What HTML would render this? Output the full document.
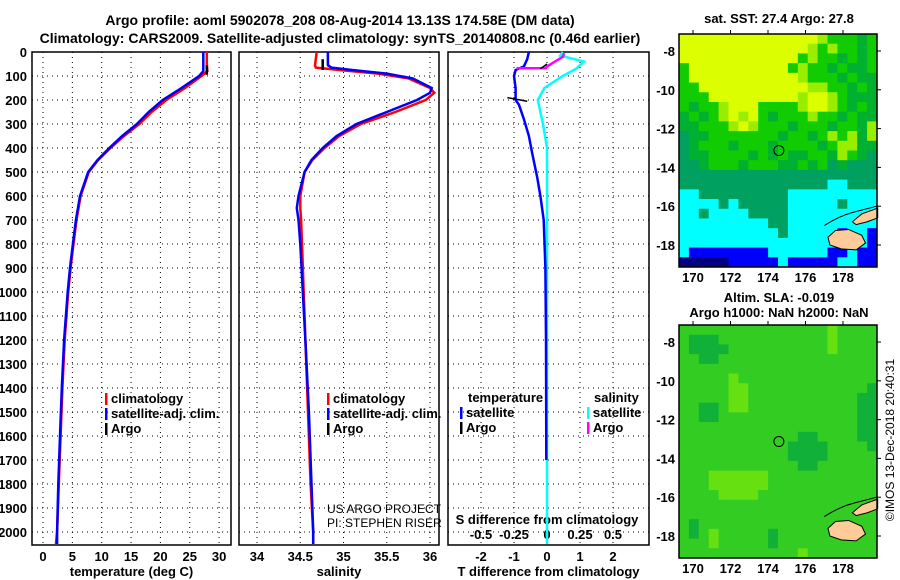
<!DOCTYPE html>
<html><head><meta charset="utf-8">
<style>
body{margin:0;background:#fff;}
svg{display:block;font-family:"Liberation Sans",sans-serif;}
.t{font-weight:bold;font-size:13px;fill:#000;}
.ti{font-weight:bold;font-size:14px;fill:#000;}
</style></head><body>
<svg id="fig" width="900" height="580" viewBox="0 0 900 580">
<text class="ti" x="340" y="25" text-anchor="middle">Argo profile: aoml 5902078_208 08-Aug-2014 13.13S 174.58E (DM data)</text>
<text class="ti" x="340" y="43" text-anchor="middle">Climatology: CARS2009. Satellite-adjusted climatology: synTS_20140808.nc (0.46d earlier)</text>
<g id="g1"></g>
<g id="g2"></g>
<g id="g3"></g>
<g id="m1"></g>
<g id="m2"></g>
<text class="t" x="779" y="23" text-anchor="middle">sat. SST: 27.4 Argo: 27.8</text>
<text class="t" x="779" y="302" text-anchor="middle">Altim. SLA: -0.019</text>
<text class="t" x="779" y="317" text-anchor="middle">Argo h1000: NaN h2000: NaN</text>
<text x="894" y="440" font-size="12" text-anchor="middle" transform="rotate(-90 894 440)">©IMOS 13-Dec-2018 20:40:31</text>
</svg>
<script>
// ---- data ----
const depthT=[0,50,80,100,150,200,250,300,350,400,450,500,600,700,800,900,1000,1200,1400,1600,1800,2000,2050];
const tempClim=[27.9,27.9,28.0,27.0,24.2,21.0,18.5,16.4,13.8,11.5,9.4,7.8,6.4,5.7,5.2,4.7,4.3,3.7,3.3,3.0,2.7,2.4,2.2];
const tempSat=[27.3,27.3,27.3,26.6,23.6,20.4,18.0,16.0,13.5,11.3,9.3,7.7,6.3,5.6,5.1,4.6,4.2,3.6,3.2,2.9,2.6,2.4,2.4];
const argoTdepth=[55,95];
const argoTemp=[27.9,27.9];
const depthS=[0,55,65,75,90,110,150,170,200,250,300,350,400,450,500,600,650,700,800,1000,1200,1500,1800,2000,2050];
const salClim=[34.69,34.67,34.68,34.95,35.4,35.75,36.0,36.05,35.95,35.6,35.2,34.95,34.78,34.64,34.55,34.5,34.5,34.51,34.52,34.54,34.56,34.59,34.62,34.65,34.65];
const salSat=[34.82,34.82,34.86,35.1,35.5,35.8,36.02,36.0,35.85,35.5,35.15,34.92,34.76,34.63,34.55,34.48,34.46,34.48,34.5,34.53,34.56,34.6,34.63,34.65,34.65];
const argoSdepth=[30,75];
const argoSal=[34.76,34.76];
const depthD=[0,30,60,75,100,150,200,220,280,350,420,520,600,700,900,1200,1700];
const tDiffSat=[-0.55,-0.6,-0.7,-0.95,-1.0,-0.95,-0.95,-0.85,-0.7,-0.55,-0.45,-0.3,-0.2,-0.1,-0.05,-0.03,-0.02];
const depthDS=[0,15,40,70,100,150,200,250,300,400,500,1000,2050];
const sDiffSat=[0.12,0.1,0.28,0.22,0.12,-0.02,-0.07,-0.05,-0.03,0.0,0.0,0.0,0.0];
const argoSdiffDepth=[5,20,60,68,68];
const argoSdiff=[0.13,0.12,0.0,-0.01,-0.23];
const argoTdiffDepth=[190,205,70,50];
const argoTdiff=[-1.2,-0.6,-0.2,0.0];
const depthTicks=[0,100,200,300,400,500,600,700,800,900,1000,1100,1200,1300,1400,1500,1600,1700,1800,1900,2000];
const tempTicks=[0,5,10,15,20,25,30];
const salTicks=[34,34.5,35,35.5,36];
const tdTicks=[-2,-1,0,1,2];
const sdTicks=[-0.5,-0.25,0,0.25,0.5];
const sdTickLabels=["-0.5","-0.25","0","0.25","0.5"];
const latTicks=[-8,-10,-12,-14,-16,-18];
const lonTicks=[170,172,174,176,178];
const sstRows=[
"YYYYYYYYYYYYYYLGGGDG","YYYYYYYYYYYYYLGLGGDG","YYYYYYYYYYYYGLGGDGDG","GYYYYYYYYYYGLGGDGDDG",
"GYYYYYYYYYYYLGGGDGDD","GGYYYYYYYYYYYLLGGDGD","GGGYYYYYYYYYLYYLGDDD","GDGGLYYYGGGGLYYLGDGD",
"DGDGLYLYGDGGGLGGDGDD","DDGGGLYLGGGDGGGDGGDL","TDDGGGGGGGDGGDGLGLDL","TDGGGDGGGDGGGGDGLLDD",
"TDDGGGGDGDGDDGGDLGDT","TTDGGGDGGGDDGDGTDTTT","TTTTTTTTTTTTTTTTTTTT","TTTTTTTTTTTTTTTCCTTT",
"CCTTTTTTTTTCCCCCCCCC","CCCCTCTTTTTCCCCCTCCC","CCTCCCCTTTTCCCCCCCCC","CCCCCCCCCTTCCCCCCCCC",
"CCCCCCCCCCTCCCCCBCCB","CCCCCCCCCCCCCCCCCCCB","CBBBBBBBBCCCCCCBBCBB","NNNNNBBBBBCBBBBBCCBB"];
const slaRows=[
"GGGGGGGGGGGGGGGLGGGG","GDDDGGGGGGGGGGGLGGGG","GDDDDGGGGGGGGGGLGGGG","GGDDGGGGGGGGGGGGGGGG",
"GGGGGGGGGGGGGGGGGGGG","GGGGGLGGGGGGGGGGGGGG","GGGGGLLGGGGGGGGGGGGD","GGGGGLLGGGGGGGGGGGDD",
"GGDDGLLGGGGGGGGGGGDD","GGDDGGGGGGGGGGGGGGDD","GGGGGGGGGGGGGGGGGGDD","GGGGGGGGGGGGDDGGGGDD",
"GGGGGGGGGGGDDDDGGGGD","GGGGGGGGGGGDDDDGGGGG","GGGGGGGGGGGGDDGGGGGG","GGGLLLLLLGGGGGGGGGGG",
"GGGLLLLLLGGGGGGGGGGG","GGGGLLLLGGGGGGGGGGGG","GGGGGGGGGGGGGGGGGGGG","GGGGGGGGGGGGGGGGGGGG",
"GDGGGGGGGGGGGGGGGGGG","GDGLGGGGGDGGGGGGGGGG","GGGLGGGGGDGGGGGGGGGG","GGGGGGGGGGGGLGGGGGGG"];
// ---- helpers ----
const NS="http://www.w3.org/2000/svg";
function mk(p,tag,a){const e=document.createElementNS(NS,tag);for(const k in a)e.setAttribute(k,a[k]);p.appendChild(e);return e;}
const yD=d=>52+d*0.24;
function panel(g,x0,x1,xs,ticks,labels,xlab,name){
  const gridg=mk(g,'g',{});
  
  
  depthTicks.forEach(d=>{mk(gridg,'line',{x1:x0,x2:x1,y1:yD(d),y2:yD(d),stroke:'#000','stroke-dasharray':'1,4','stroke-width':1});});
  ticks.forEach((v,i)=>{const x=xs(v);mk(gridg,'line',{x1:x,x2:x,y1:52,y2:545,stroke:'#000','stroke-dasharray':'1,4','stroke-width':1});});
  const r=mk(g,'rect',{x:x0,y:52,width:x1-x0,height:493,fill:'none',stroke:'#000','stroke-width':1.5});
  
  
  if(labels){ticks.forEach((v,i)=>{const t=mk(g,'text',{x:xs(v),y:561,'text-anchor':'middle',class:'t'});t.textContent=labels[i];
    
    });}
  const xl=mk(g,'text',{x:(x0+x1)/2,y:576,'text-anchor':'middle',class:'t'});xl.textContent=xlab;
  
  
}
function line(g,xs,vals,deps,col,w,name){
  const pts=vals.map((v,i)=>xs(v).toFixed(1)+','+yD(deps[i]).toFixed(1)).join(' ');
  const p=mk(g,'polyline',{points:pts,fill:'none',stroke:col,'stroke-width':w});
  
  
}
function legend(g,x,y,items,name){
  items.forEach((it,i)=>{
    const b=mk(g,'rect',{x:x,y:y+i*15-10,width:2.5,height:12,fill:it[1]});
    
    
    const t=mk(g,'text',{x:x+6,y:y+i*15,class:'t'});t.textContent=it[0];
    
    
  });
}
const g1=document.getElementById('g1');
depthTicks.forEach(d=>{const t=mk(g1,'text',{x:27,y:yD(d)+5,'text-anchor':'end',class:'t'});t.textContent=d;
  
  });
const xT=v=>43+v*5.87;
panel(g1,32,231,xT,tempTicks,tempTicks.map(String),'temperature (deg C)','temperature');
line(g1,xT,tempClim,depthT,'#f00',2.5,'temperature-climatology-line');
line(g1,xT,tempSat,depthT,'#00f',2.5,'temperature-satellite-line');
line(g1,xT,argoTemp,argoTdepth,'#000',2.5,'temperature-argo-line');
legend(g1,105,403,[['climatology','#f00'],['satellite-adj. clim.','#00f'],['Argo','#000']],'temperature-legend');
const g2=document.getElementById('g2');
const xS=v=>257+(v-34)*86.5;
panel(g2,239,439,xS,salTicks,['34','34.5','35','35.5','36'],'salinity','salinity');
line(g2,xS,salClim,depthS,'#f00',2.5,'salinity-climatology-line');
line(g2,xS,salSat,depthS,'#00f',2.5,'salinity-satellite-line');
line(g2,xS,argoSal,argoSdepth,'#000',2.5,'salinity-argo-line');
legend(g2,327,403,[['climatology','#f00'],['satellite-adj. clim.','#00f'],['Argo','#000']],'salinity-legend');
[['US ARGO PROJECT',513],['PI: STEPHEN RISER',527]].forEach(a=>{const t=mk(g2,'text',{x:327,y:a[1],'font-size':12});t.textContent=a[0];
  
  });
const g3=document.getElementById('g3');
const xTD=v=>547+v*33, xSD=v=>547+v*132;
panel(g3,448,649,xTD,tdTicks,tdTicks.map(String),'T difference from climatology','difference');
sdTicks.forEach((v,i)=>{const t=mk(g3,'text',{x:xSD(v),y:539,'text-anchor':'middle',class:'t'});t.textContent=sdTickLabels[i];
  
  });
{const t=mk(g3,'text',{x:547,y:524,'text-anchor':'middle',class:'t'});t.textContent='S difference from climatology';
 
 }
line(g3,xSD,sDiffSat,depthDS,'#0ff',2.5,'salinity-diff-satellite-line');
line(g3,xTD,tDiffSat,depthD,'#00f',2.5,'temperature-diff-satellite-line');
line(g3,xSD,argoSdiff,argoSdiffDepth,'#f0f',2.5,'salinity-diff-argo-line');
line(g3,xTD,argoTdiff.slice(0,2),argoTdiffDepth.slice(0,2),'#000',1.5,'temperature-diff-argo-line');
line(g3,xTD,argoTdiff.slice(2),argoTdiffDepth.slice(2),'#000',1.5,'temperature-diff-argo-line-2');
{const t=mk(g3,'text',{x:468,y:402,class:'t'});t.textContent='temperature';
 const s=mk(g3,'text',{x:594,y:402,class:'t'});s.textContent='salinity';}
legend(g3,460,417,[['satellite','#00f'],['Argo','#000']],'t-diff-legend');
legend(g3,587,417,[['satellite','#0ff'],['Argo','#f0f']],'s-diff-legend');
const cmap={Y:'#dcff00',L:'#99ee00',G:'#11cc00',D:'#00b030',T:'#00a060',C:'#00ffff',B:'#0000ff',N:'#000080'};
const cmap2={G:'#33cc22',L:'#66e011',D:'#11b038'};
function map(gid,top,rows,cm,name){
  const g=document.getElementById(gid);
  const L=679,R=877,B=top+233;
  const xm=lon=>693+(lon-170)*18.75, ym=lat=>top+17+(-8-lat)*19.4;
  const cw=(R-L)/20, ch=(B-top)/24;
  rows.forEach((row,r)=>{[...row].forEach((c,k)=>{
    const e=mk(g,'rect',{x:L+k*cw,y:top+r*ch,width:cw+0.5,height:ch+0.5,fill:cm[c]});
    
    
  });});
  const l1=mk(g,'path',{d:`M${xm(177.2)},${ym(-17.6)} L${xm(177.6)},${ym(-17.25)} L${xm(178.3)},${ym(-17.2)} L${xm(179.0)},${ym(-17.5)} L${xm(179.2)},${ym(-17.9)} L${xm(178.7)},${ym(-18.25)} L${xm(177.9)},${ym(-18.2)} L${xm(177.3)},${ym(-18.0)} Z`,fill:'#ffcc99',stroke:'#000','stroke-width':1});
  
  
  const l2=mk(g,'path',{d:`M${xm(178.5)},${ym(-16.8)} L${xm(179.0)},${ym(-16.4)} L${xm(179.85)},${ym(-16.1)} L${xm(179.85)},${ym(-16.6)} L${xm(179.3)},${ym(-16.8)} L${xm(178.7)},${ym(-16.95)} Z`,fill:'#ffcc99',stroke:'#000','stroke-width':1});
  
  
  const reef=mk(g,'path',{d:`M${xm(177.0)},${ym(-17.0)} Q${xm(177.8)},${ym(-16.5)} ${xm(178.6)},${ym(-16.3)} L${xm(179.8)},${ym(-16.0)}`,fill:'none',stroke:'#000','stroke-width':1});
  
  
  const c=mk(g,'circle',{cx:xm(174.58),cy:ym(-13.13),r:5,fill:'none',stroke:'#000','stroke-width':1});
  
  
  const f=mk(g,'rect',{x:L,y:top,width:R-L,height:B-top,fill:'none',stroke:'#000','stroke-width':1.5});
  
  
  latTicks.forEach(v=>{const t=mk(g,'text',{x:675,y:ym(v)+5,'text-anchor':'end',class:'t'});t.textContent=v;
    
    
    mk(g,'line',{x1:R,x2:R+4,y1:ym(v),y2:ym(v),stroke:'#000'});});
  lonTicks.forEach(v=>{const t=mk(g,'text',{x:xm(v),y:B+15,'text-anchor':'middle',class:'t'});t.textContent=v;
    
    
    mk(g,'line',{x1:xm(v),x2:xm(v),y1:top,y2:top-4,stroke:'#000'});});
}
map('m1',34,sstRows,cmap,'sst-map');
map('m2',325,slaRows,cmap2,'sla-map');
</script>
</body></html>
